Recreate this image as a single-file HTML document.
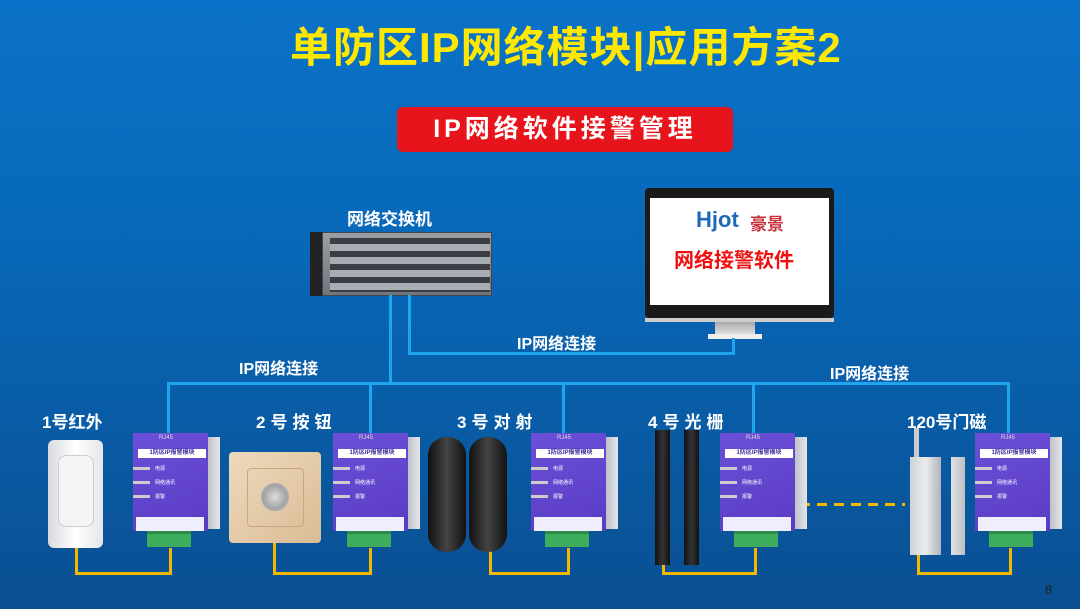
<!DOCTYPE html>
<html><head><meta charset="utf-8"><style>
*{margin:0;padding:0;box-sizing:border-box}
body{width:1080px;height:609px;overflow:hidden;position:relative;font-family:"Liberation Sans","Noto Sans CJK SC",sans-serif;background:linear-gradient(180deg,#0a72c8 0%,#0868b8 40%,#0a4f92 100%)}
.a{position:absolute}
.t{color:#fff;font-weight:bold;white-space:nowrap}
.b{position:absolute;background:#1ea5ee}
.y{position:absolute;background:#f5b800}
.mod{position:absolute;top:433px;width:90px;height:118px}
.mod .side{position:absolute;left:73px;top:4px;width:14px;height:92px;background:linear-gradient(90deg,#b8bcc4,#e4e6ea)}
.mod .body{position:absolute;left:0;top:0;width:75px;height:98px;background:linear-gradient(160deg,#6c4fd8,#5a3cc4)}
.mod .rj{position:absolute;left:26px;top:2px;font-size:6px;color:#ddd}
.mod .lab{position:absolute;left:5px;top:16px;width:68px;height:9px;background:#fff;font-size:6px;color:#3a2a9a;text-align:center;line-height:9px;font-weight:bold}
.mod .led{position:absolute;left:0;width:17px;height:3px;background:#ccc}
.mod .lt{position:absolute;left:22px;font-size:5px;color:#fff}
.mod .term{position:absolute;left:3px;top:84px;width:68px;height:14px;background:#eef;font-size:4px;color:#335}
.mod .grn{position:absolute;left:14px;top:98px;width:44px;height:16px;background:#3fae5c;border-top:3px solid #2e8a46}
</style></head><body>
<div class="a t" style="left:290px;top:14px;font-size:42px;color:#ffe800;letter-spacing:1px">单防区IP网络模块|应用方案2</div>
<div class="a t" style="left:397px;top:107px;width:336px;height:45px;background:#e8141c;border-radius:6px;text-align:center;line-height:45px;font-size:25px;letter-spacing:4px">IP网络软件接警管理</div>

<!-- switch -->
<div class="a t" style="left:347px;top:205px;font-size:17px">网络交换机</div>
<div class="a" style="left:310px;top:232px;width:182px;height:64px;background:linear-gradient(180deg,#9aa0a6,#6f757c);border-left:12px solid #222;box-shadow:inset 0 0 0 1px #444"></div>
<div class="a" style="left:330px;top:238px;width:160px;height:54px;background:repeating-linear-gradient(180deg,#3a3e44 0 6px,#a8adb3 6px 13px)"></div>

<!-- monitor -->
<div class="a" style="left:645px;top:188px;width:189px;height:130px;background:#1a1a1a;border-radius:4px"></div>
<div class="a" style="left:650px;top:198px;width:179px;height:107px;background:#fff"></div>
<div class="a" style="left:645px;top:318px;width:189px;height:4px;background:#ccc"></div>
<div class="a" style="left:715px;top:322px;width:40px;height:12px;background:linear-gradient(#aaa,#ddd)"></div>
<div class="a" style="left:708px;top:334px;width:54px;height:5px;background:#eee"></div>
<div class="a" style="left:696px;top:207px;font-size:22px;font-weight:bold;color:#1e6ab8">Hjot</div>
<div class="a" style="left:750px;top:210px;font-size:17px;font-weight:bold;color:#c8323c">豪景</div>
<div class="a" style="left:674px;top:244px;font-size:20px;font-weight:bold;color:#f01010">网络接警软件</div>

<!-- blue lines -->
<div class="b" style="left:389px;top:295px;width:3px;height:90px"></div>
<div class="b" style="left:408px;top:295px;width:3px;height:60px"></div>
<div class="b" style="left:408px;top:352px;width:327px;height:3px"></div>
<div class="b" style="left:732px;top:338px;width:3px;height:17px"></div>
<div class="a t" style="left:517px;top:330px;font-size:16px">IP网络连接</div>
<div class="b" style="left:167px;top:382px;width:843px;height:3px"></div>
<div class="b" style="left:167px;top:382px;width:3px;height:52px"></div>
<div class="b" style="left:369px;top:382px;width:3px;height:52px"></div>
<div class="b" style="left:562px;top:382px;width:3px;height:52px"></div>
<div class="b" style="left:752px;top:382px;width:3px;height:52px"></div>
<div class="b" style="left:1007px;top:382px;width:3px;height:52px"></div>
<div class="a t" style="left:239px;top:355px;font-size:16px">IP网络连接</div>
<div class="a t" style="left:830px;top:360px;font-size:16px">IP网络连接</div>

<!-- labels -->
<div class="a t" style="left:42px;top:408px;font-size:17px">1号红外</div>
<div class="a t" style="left:256px;top:408px;font-size:17px;letter-spacing:5px">2号按钮</div>
<div class="a t" style="left:457px;top:408px;font-size:17px;letter-spacing:5px">3号对射</div>
<div class="a t" style="left:648px;top:408px;font-size:17px;letter-spacing:5px">4号光栅</div>
<div class="a t" style="left:907px;top:408px;font-size:17px">120号门磁</div>

<!-- yellow wires -->
<div class="y" style="left:169px;top:548px;width:3px;height:27px"></div><div class="y" style="left:75px;top:572px;width:97px;height:3px"></div><div class="y" style="left:75px;top:546px;width:3px;height:29px"></div>
<div class="y" style="left:369px;top:548px;width:3px;height:27px"></div><div class="y" style="left:273px;top:572px;width:99px;height:3px"></div><div class="y" style="left:273px;top:542px;width:3px;height:33px"></div>
<div class="y" style="left:567px;top:548px;width:3px;height:27px"></div><div class="y" style="left:489px;top:572px;width:81px;height:3px"></div><div class="y" style="left:489px;top:550px;width:3px;height:25px"></div>
<div class="y" style="left:754px;top:548px;width:3px;height:27px"></div><div class="y" style="left:662px;top:572px;width:95px;height:3px"></div><div class="y" style="left:662px;top:560px;width:3px;height:15px"></div>
<div class="y" style="left:1009px;top:548px;width:3px;height:27px"></div><div class="y" style="left:917px;top:572px;width:95px;height:3px"></div><div class="y" style="left:917px;top:553px;width:3px;height:22px"></div>
<div class="a" style="left:800px;top:503px;width:105px;height:3px;background:repeating-linear-gradient(90deg,#f5b800 0 10px,transparent 10px 17px)"></div>

<!-- devices -->
<div class="a" style="left:48px;top:440px;width:55px;height:108px;background:linear-gradient(90deg,#d8dadf,#fff,#e4e6ea);border-radius:6px"></div>
<div class="a" style="left:58px;top:455px;width:36px;height:72px;background:#f4f4f6;border:1px solid #ccc;border-radius:8px"></div>
<div class="a" style="left:229px;top:452px;width:92px;height:91px;background:linear-gradient(135deg,#eed9bd,#d9bc95);border-radius:4px"></div>
<div class="a" style="left:247px;top:468px;width:57px;height:59px;border:1px solid #c8a880;border-radius:4px"></div>
<div class="a" style="left:261px;top:483px;width:28px;height:28px;border-radius:50%;background:radial-gradient(#ddd,#888);border:2px solid #aaa"></div>
<div class="a" style="left:428px;top:437px;width:38px;height:115px;background:linear-gradient(90deg,#111,#444,#111);border-radius:18px"></div>
<div class="a" style="left:469px;top:437px;width:38px;height:115px;background:linear-gradient(90deg,#111,#444,#111);border-radius:18px"></div>
<div class="a" style="left:655px;top:430px;width:15px;height:135px;background:linear-gradient(90deg,#111,#333,#111)"></div>
<div class="a" style="left:684px;top:430px;width:15px;height:135px;background:linear-gradient(90deg,#111,#333,#111)"></div>
<div class="a" style="left:914px;top:428px;width:5px;height:30px;background:#ccc"></div>
<div class="a" style="left:910px;top:457px;width:31px;height:98px;background:linear-gradient(90deg,#cfd2d6,#eaecee,#b0b4b8)"></div>
<div class="a" style="left:951px;top:457px;width:14px;height:98px;background:linear-gradient(90deg,#dfe1e4,#bcc0c4)"></div>

<!-- modules -->
<div class="mod" style="left:133px"><div class="side"></div><div class="body"></div><div class="rj">RJ45</div><div class="lab">1防区IP报警模块</div><div class="led" style="top:34px"></div><div class="lt" style="top:32px">电源</div><div class="led" style="top:48px"></div><div class="lt" style="top:46px">网络通讯</div><div class="led" style="top:62px"></div><div class="lt" style="top:60px">报警</div><div class="term"></div><div class="grn"></div></div>
<div class="mod" style="left:333px"><div class="side"></div><div class="body"></div><div class="rj">RJ45</div><div class="lab">1防区IP报警模块</div><div class="led" style="top:34px"></div><div class="lt" style="top:32px">电源</div><div class="led" style="top:48px"></div><div class="lt" style="top:46px">网络通讯</div><div class="led" style="top:62px"></div><div class="lt" style="top:60px">报警</div><div class="term"></div><div class="grn"></div></div>
<div class="mod" style="left:531px"><div class="side"></div><div class="body"></div><div class="rj">RJ45</div><div class="lab">1防区IP报警模块</div><div class="led" style="top:34px"></div><div class="lt" style="top:32px">电源</div><div class="led" style="top:48px"></div><div class="lt" style="top:46px">网络通讯</div><div class="led" style="top:62px"></div><div class="lt" style="top:60px">报警</div><div class="term"></div><div class="grn"></div></div>
<div class="mod" style="left:720px"><div class="side"></div><div class="body"></div><div class="rj">RJ45</div><div class="lab">1防区IP报警模块</div><div class="led" style="top:34px"></div><div class="lt" style="top:32px">电源</div><div class="led" style="top:48px"></div><div class="lt" style="top:46px">网络通讯</div><div class="led" style="top:62px"></div><div class="lt" style="top:60px">报警</div><div class="term"></div><div class="grn"></div></div>
<div class="mod" style="left:975px"><div class="side"></div><div class="body"></div><div class="rj">RJ45</div><div class="lab">1防区IP报警模块</div><div class="led" style="top:34px"></div><div class="lt" style="top:32px">电源</div><div class="led" style="top:48px"></div><div class="lt" style="top:46px">网络通讯</div><div class="led" style="top:62px"></div><div class="lt" style="top:60px">报警</div><div class="term"></div><div class="grn"></div></div>

<div class="a" style="left:1045px;top:582px;font-size:13px;color:#222">8</div>
</body></html>
